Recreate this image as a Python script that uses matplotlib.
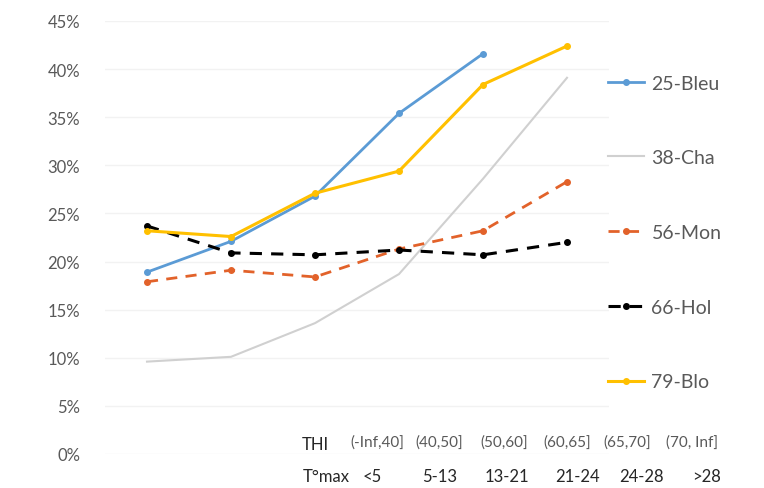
import matplotlib
matplotlib.use("Agg")
import matplotlib.pyplot as plt
from matplotlib.ticker import PercentFormatter

plt.rcParams['font.family'] = ['Lato', 'DejaVu Sans']

# THI / temperature classes
thi_labels = ["(-Inf,40]", "(40,50]", "(50,60]", "(60,65]", "(65,70]", "(70, Inf]"]
tmax_labels = ["<5", "5-13", "13-21", "21-24", "24-28", ">28"]

# share per class, one list per departement
bleu_25 = [0.189, 0.221, 0.268, 0.354, 0.416]
cha_38 = [0.096, 0.101, 0.136, 0.187, 0.286, 0.391]
mon_56 = [0.179, 0.191, 0.184, 0.213, 0.232, 0.283]
hol_66 = [0.237, 0.209, 0.207, 0.212, 0.207, 0.220]
blo_79 = [0.232, 0.226, 0.271, 0.294, 0.384, 0.424]

W, H = 764, 489
fig = plt.figure(figsize=(W / 100, H / 100), dpi=100)
ax = fig.add_axes([105 / W, 34 / H, 504 / W, 433 / H])

ax.plot(range(len(bleu_25)), bleu_25, color='#5B9BD5', lw=2, marker='o', ms=4, label='25-Bleu', zorder=3)
ax.plot(range(len(cha_38)), cha_38, color='#D0D0D0', lw=1.5, label='38-Cha', zorder=2)
ax.plot(range(len(mon_56)), mon_56, color='#E2622A', lw=2, ls=(0, (4, 3)), marker='o', ms=4, label='56-Mon', zorder=3)
ax.plot(range(len(hol_66)), hol_66, color='black', lw=2.2, ls=(0, (4, 3)), marker='o', ms=4, label='66-Hol', zorder=3)
ax.plot(range(len(blo_79)), blo_79, color='#FFC000', lw=2.2, marker='o', ms=4, label='79-Blo', zorder=4)

ax.set_xlim(-0.5, 5.5)
ax.set_ylim(0, 0.45)
ax.set_yticks([i * 0.05 for i in range(10)])
ax.yaxis.set_major_formatter(PercentFormatter(1.0, decimals=0))
ax.tick_params(axis='y', length=0, pad=18, labelsize=12, labelcolor='#595959')
ax.set_xticks([])
ax.grid(axis='y', color='#F2F2F2', lw=1)
ax.set_axisbelow(True)
for s in ax.spines.values():
    s.set_visible(False)

leg = fig.legend(loc='upper left', bbox_to_anchor=(590 / W, 1 - 58 / H), frameon=False,
                 fontsize=14, labelspacing=2.97, handlelength=1.9, handletextpad=0.36,
                 labelcolor='#595959')

# class labels under the plot
thi_x = [377, 439, 504, 567, 627, 692]
tmax_x = [372, 440, 507, 577, 642, 707]
fig.text(315 / W, 1 - 445 / H, "THI", ha='center', va='center', fontsize=12, color='#262626')
for x, t in zip(thi_x, thi_labels):
    fig.text(x / W, 1 - 443 / H, t, ha='center', va='center', fontsize=11, color='#595959')
fig.text(326 / W, 1 - 477 / H, "T°max", ha='center', va='center', fontsize=12, color='#262626')
for x, t in zip(tmax_x, tmax_labels):
    fig.text(x / W, 1 - 477 / H, t, ha='center', va='center', fontsize=12, color='#262626')

fig.savefig("out.png", dpi=100)
